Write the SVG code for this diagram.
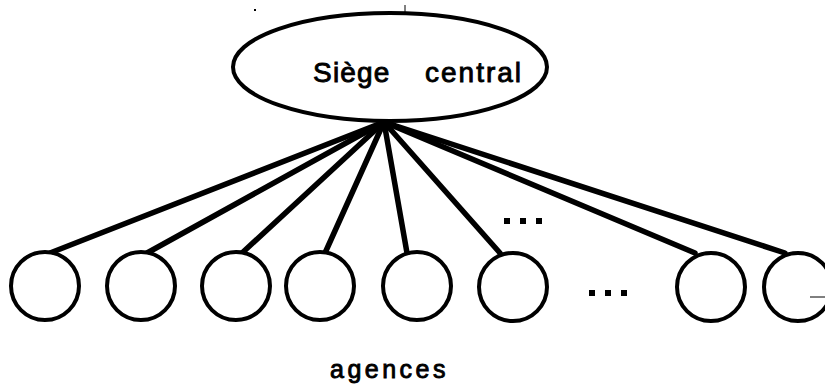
<svg xmlns="http://www.w3.org/2000/svg" width="825" height="389" viewBox="0 0 825 389">
<style>
.node{fill:#fff;stroke:#000;stroke-width:4}
.conn{stroke:#000;stroke-width:5.5;stroke-linecap:round;fill:none}
.lbl{font-family:"Liberation Sans",Arial,sans-serif;fill:#000;stroke:#000;stroke-width:0.9}
.dot{fill:#000}
</style>
<rect width="825" height="389" fill="#fff"/>
<g id="connectors">
<line class="conn" x1="384" y1="122" x2="50" y2="253"/>
<line class="conn" x1="384" y1="122" x2="147" y2="253"/>
<line class="conn" x1="384" y1="122" x2="242" y2="253"/>
<line class="conn" x1="384" y1="122" x2="325" y2="253"/>
<line class="conn" x1="384" y1="122" x2="407" y2="253"/>
<line class="conn" x1="384" y1="122" x2="500" y2="253"/>
<line class="conn" x1="384" y1="122" x2="695" y2="253"/>
<line class="conn" x1="384" y1="122" x2="785" y2="253"/>
</g>
<g id="siege">
<ellipse class="node" cx="390" cy="67" rx="157" ry="54"/>
<text class="lbl" x="313" y="82" font-size="28" letter-spacing="1.2">Siège</text>
<text class="lbl" x="425" y="82" font-size="28" letter-spacing="2">central</text>
</g>
<g id="agence1"><circle class="node" cx="45" cy="286" r="34"/></g>
<g id="agence2"><circle class="node" cx="141" cy="286" r="34"/></g>
<g id="agence3"><circle class="node" cx="236" cy="286" r="34"/></g>
<g id="agence4"><circle class="node" cx="320" cy="286" r="34"/></g>
<g id="agence5"><circle class="node" cx="417" cy="286" r="34"/></g>
<g id="agence6"><circle class="node" cx="513" cy="287" r="34"/></g>
<g id="agence7"><circle class="node" cx="711" cy="287" r="34"/></g>
<g id="agence8"><circle class="node" cx="798" cy="287" r="34"/>
<line x1="810" y1="297" x2="825" y2="297" stroke="#000" stroke-width="1"/></g>
<g id="ellipsis-top">
<rect class="dot" x="504" y="218" width="6" height="6"/>
<rect class="dot" x="520" y="218" width="6" height="6"/>
<rect class="dot" x="536" y="218" width="6" height="6"/>
</g>
<g id="ellipsis-bottom">
<rect class="dot" x="589" y="290" width="6" height="6"/>
<rect class="dot" x="605" y="290" width="6" height="6"/>
<rect class="dot" x="621" y="290" width="6" height="6"/>
</g>
<g id="label-agences">
<text class="lbl" x="330" y="378" font-size="25" letter-spacing="3.5">agences</text>
</g>
<g id="marks">
<rect x="254" y="9" width="2" height="2" fill="#000"/>
<line x1="405" y1="5" x2="405" y2="13" stroke="#000" stroke-width="1"/>
</g>
</svg>
